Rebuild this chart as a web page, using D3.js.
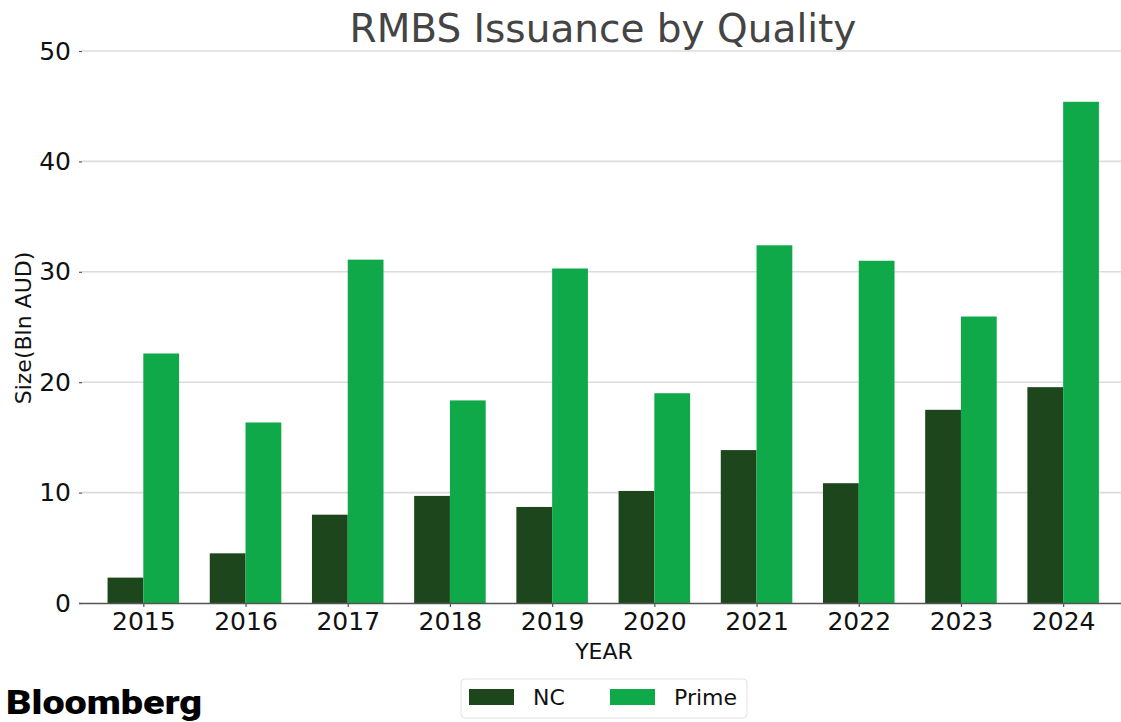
<!DOCTYPE html>
<html>
<head>
<meta charset="utf-8">
<script src="https://cdn.jsdelivr.net/npm/d3@7"></script>
<style>
  html, body { margin: 0; padding: 0; background: #fff; }
  svg { display: block; font-family: "DejaVu Sans", sans-serif; }
</style>
</head>
<body>
<svg id="chart" width="1121" height="722"></svg>
<script>
// ===== DATA =====
const years = ["2015", "2016", "2017", "2018", "2019", "2020", "2021", "2022", "2023", "2024"];
const ncValues = [2.3, 4.5, 8.0, 9.7, 8.7, 10.15, 13.85, 10.85, 17.5, 19.55];
const primeValues = [22.6, 16.35, 31.1, 18.35, 30.3, 19.0, 32.4, 31.0, 25.95, 45.4];
const seriesNames = ["NC", "Prime"];
const yTicks = [0, 10, 20, 30, 40, 50];

const colors = { NC: "#1e461d", Prime: "#0fa94a" };

// ===== LAYOUT =====
const svg = d3.select("#chart");
const plotLeft = 82, plotRight = 1121, plotTop = 51, plotBottom = 603;
const barWidth = 0.35; // in category units

const x = d3.scaleLinear()
  .domain([-0.6, 9.566])
  .range([plotLeft, plotRight]);

const y = d3.scaleLinear()
  .domain([0, 50])
  .range([plotBottom, plotTop]);

// gridlines
svg.append("g")
  .selectAll("line")
  .data(yTicks.filter(d => d > 0))
  .join("line")
  .attr("x1", plotLeft)
  .attr("x2", plotRight)
  .attr("y1", d => y(d))
  .attr("y2", d => y(d))
  .attr("stroke", "#dcdcdc")
  .attr("stroke-width", 1.6);

// y axis (ticks + labels, no spine)
const yAxis = svg.append("g")
  .attr("transform", `translate(${plotLeft},0)`)
  .call(d3.axisLeft(y).tickValues(yTicks).tickSize(3).tickPadding(8).tickFormat(d3.format("d")));
yAxis.select(".domain").remove();
yAxis.selectAll(".tick line").attr("stroke", "#555").attr("stroke-width", 1.2);
yAxis.selectAll(".tick text")
  .attr("font-family", "DejaVu Sans")
  .attr("font-size", 25)
  .attr("fill", "#111");

// bars
const rows = years.map((yr, i) => ({ i, year: yr, NC: ncValues[i], Prime: primeValues[i] }));

const groups = svg.append("g")
  .selectAll("g")
  .data(rows)
  .join("g");

groups.selectAll("rect")
  .data(d => seriesNames.map((s, k) => ({ i: d.i, series: s, k, value: d[s] })))
  .join("rect")
  .attr("x", d => x(d.i + (d.k - 1) * barWidth))
  .attr("width", d => x(barWidth) - x(0))
  .attr("y", d => y(d.value))
  .attr("height", d => y(0) - y(d.value))
  .attr("fill", d => colors[d.series]);

// x axis
const xAxis = svg.append("g")
  .attr("transform", `translate(0,${plotBottom})`)
  .call(d3.axisBottom(x).tickValues(d3.range(years.length)).tickSize(4).tickPadding(5)
    .tickFormat(i => years[i]));
xAxis.select(".domain")
  .attr("d", `M${plotLeft - 3},0.5H${plotRight}`)
  .attr("stroke", "#555")
  .attr("stroke-width", 1.4);
xAxis.selectAll(".tick line").attr("stroke", "#555").attr("stroke-width", 1.2);
xAxis.selectAll(".tick text")
  .attr("font-family", "DejaVu Sans")
  .attr("font-size", 25)
  .attr("fill", "#111");

// title
svg.append("text")
  .attr("x", 603)
  .attr("y", 42)
  .attr("text-anchor", "middle")
  .attr("font-size", 39)
  .attr("fill", "#444")
  .text("RMBS Issuance by Quality");

// axis titles
svg.append("text")
  .attr("x", 604)
  .attr("y", 659)
  .attr("text-anchor", "middle")
  .attr("font-size", 22)
  .attr("fill", "#111")
  .text("YEAR");

svg.append("text")
  .attr("transform", "translate(31,328) rotate(-90)")
  .attr("text-anchor", "middle")
  .attr("font-size", 22)
  .attr("fill", "#111")
  .text("Size(Bln AUD)");

// legend
const legend = svg.append("g").attr("transform", "translate(461,679)");
legend.append("rect")
  .attr("width", 286)
  .attr("height", 39)
  .attr("rx", 4)
  .attr("fill", "#fff")
  .attr("stroke", "#e2e2e2");

const legendItems = legend.selectAll("g.item")
  .data(seriesNames)
  .join("g")
  .attr("class", "item")
  .attr("transform", (d, i) => `translate(${8 + i * 141},0)`);

legendItems.append("rect")
  .attr("y", 10)
  .attr("width", 45)
  .attr("height", 16)
  .attr("fill", d => colors[d]);

legendItems.append("text")
  .attr("x", 64)
  .attr("y", 26)
  .attr("font-size", 22)
  .attr("fill", "#111")
  .text(d => d);

// logo
svg.append("text")
  .attr("x", 6)
  .attr("y", 714)
  .attr("font-family", "Roboto, Inter, 'Liberation Sans', sans-serif")
  .attr("font-weight", 900)
  .attr("font-size", 34)
  .attr("textLength", 196)
  .attr("lengthAdjust", "spacingAndGlyphs")
  .attr("fill", "#000")
  .text("Bloomberg");
</script>
</body>
</html>
